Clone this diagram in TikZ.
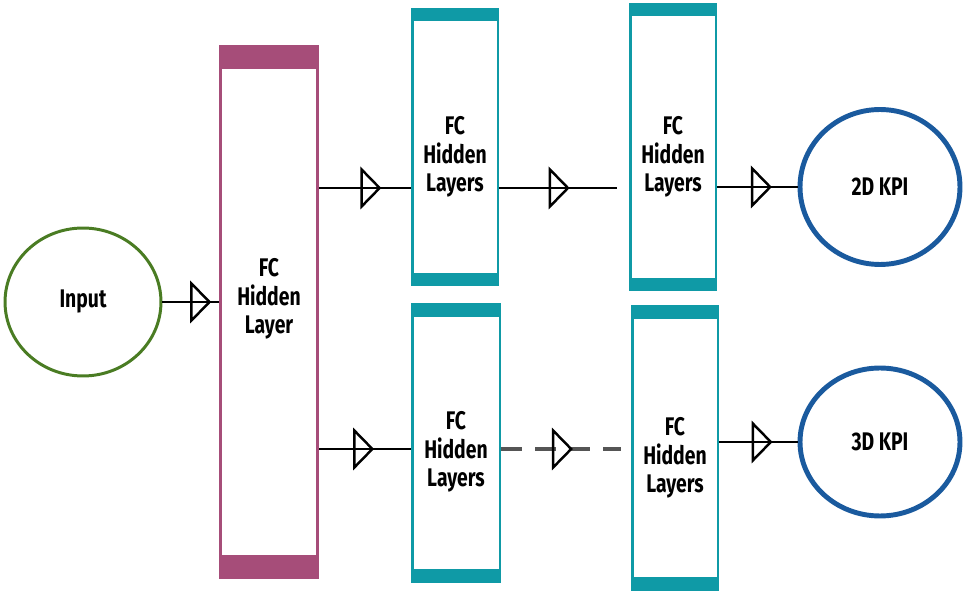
\documentclass[tikz,border=0pt]{standalone}
\usepackage{fontspec}
\setmainfont{Fira Sans}[FakeStretch=0.76]
\usetikzlibrary{arrows.meta,shapes.geometric,decorations.markings}
\definecolor{plum}{HTML}{A64D79}
\definecolor{teal}{HTML}{0F9AA6}
\definecolor{leaf}{HTML}{4A7C23}
\definecolor{deep}{HTML}{1A5A9E}
\definecolor{dashgray}{HTML}{555555}

\begin{document}
\begin{tikzpicture}[x=0.02cm,y=-0.02cm,
    label font/.style={font=\bfseries\fontsize{14.5}{16.3}\selectfont},
    layer box/.style 2 args={draw=#1, fill=white, line width=1.7pt, rectangle, path picture={
        \fill[#1] (path picture bounding box.north west) rectangle ([yshift=-#2]path picture bounding box.north east);
        \fill[#1] (path picture bounding box.south west) rectangle ([yshift=#2]path picture bounding box.south east);}},
    box text/.style={label font, align=center},
    kpi node/.style={ellipse, draw=deep, line width=2.8pt, label font},
    flow/.style={line width=0.9pt, postaction={decorate}, decoration={markings,
      mark=at position #1 with {\arrow{Triangle[open, color=black, length=0.42cm, width=0.85cm, line width=1.4pt]}}}},
    flow/.default=0.68]

\useasboundingbox (0,0) rectangle (975,604);

\node[ellipse, draw=leaf, line width=1.7pt, minimum width=3.12cm, minimum height=2.96cm, label font] (in) at (83,302) {Input};

\node[layer box={plum}{0.45cm}, minimum width=1.96cm, minimum height=10.62cm,
  label={[box text, yshift=0.26cm]center:{FC\\Hidden\\Layer}}] (fc) at (269,312) {};

\node[layer box={teal}{0.22cm}, minimum width=1.72cm, minimum height=5.5cm,
  label={[box text, yshift=-0.2cm]center:{FC\\Hidden\\Layers}}] (ul) at (455,147) {};
\node[layer box={teal}{0.22cm}, minimum width=1.72cm, minimum height=5.7cm,
  label={[box text, yshift=-0.2cm]center:{FC\\Hidden\\Layers}}] (ur) at (673,147) {};
\node[layer box={teal}{0.24cm}, minimum width=1.76cm, minimum height=5.54cm,
  label={[box text, yshift=-0.18cm]center:{FC\\Hidden\\Layers}}] (ll) at (456,443) {};
\node[layer box={teal}{0.24cm}, minimum width=1.72cm, minimum height=5.66cm,
  label={[box text, yshift=-0.2cm]center:{FC\\Hidden\\Layers}}] (lr) at (675,448) {};

\node[kpi node, minimum width=3.2cm, minimum height=3.1cm] (k2) at (880,187) {2D KPI};
\node[kpi node, minimum width=3.2cm, minimum height=2.96cm] (k3) at (880,442) {3D KPI};

\coordinate (r1) at (0,188);
\coordinate (r2) at (0,449);

\draw[flow=0.87] (in) -- (fc.west |- in);
\draw[flow] (fc.east |- r1) -- (ul.west |- r1);
\draw[flow=0.6] (ul.east |- r1) -- ([xshift=-0.24cm]ur.west |- r1);
\draw[flow] (ur.east |- k2) -- (k2);
\draw[flow=0.6] (fc.east |- r2) -- (ll.west |- r2);
\draw[flow=0.6, draw=dashgray, line width=2.4pt, dash pattern=on 0.42cm off 0.26cm] (ll.east |- r2) -- ([xshift=-0.2cm]lr.west |- r2);
\draw[flow] (lr.east |- k3) -- (k3);

\end{tikzpicture}
\end{document}
